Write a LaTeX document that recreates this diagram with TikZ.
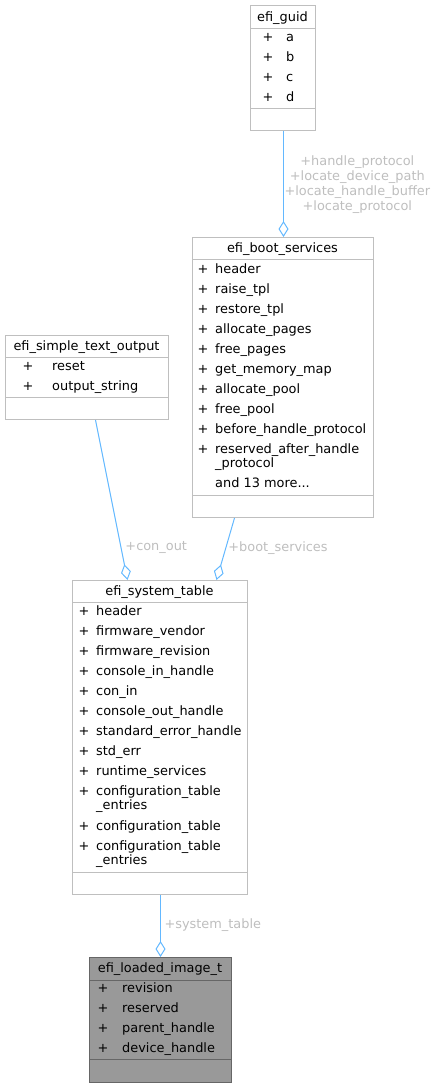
\documentclass[tikz,border=0pt]{standalone}
\usepackage{fontspec}
\setmainfont{DejaVu Sans}
\usetikzlibrary{arrows.meta}
\definecolor{frame}{HTML}{BFBFBF}
\definecolor{link}{HTML}{63B8FF}
\definecolor{lbl}{HTML}{BEBEBE}
\definecolor{hilite}{HTML}{999999}
\definecolor{hiframe}{HTML}{666666}
\tikzset{
  box/.style={draw=frame, fill=white, line width=1pt, inner sep=0pt, anchor=north west},
  hibox/.style={box, draw=hiframe, fill=hilite},
  title/.style={inner sep=0pt, anchor=base, font=\fontsize{12.9}{15}\selectfont},
  member/.style={inner sep=0pt, anchor=base west, font=\fontsize{12.9}{15}\selectfont},
  plus/.style={inner sep=0pt, anchor=base, font=\fontsize{12.9}{15}\selectfont},
  rel/.style={draw=link, line width=1pt, -{Diamond[open, length=16pt, width=10pt, line width=1pt]}},
  rellabel/.style={inner sep=0pt, text=lbl, align=center, font=\fontsize{12.9}{15}\selectfont}
}
\begin{document}
\begin{tikzpicture}[x=1pt, y=-1pt]
  \useasboundingbox (0,0) rectangle (436,1088);
  % efi_guid
  \node[box, minimum width=65pt, minimum height=125pt] (guid) at (250,5) {};
  \draw[frame, line width=1pt] (250,28) -- (315,28) (250,108) -- (315,108);
  \node[title] (guid-t) at (282.5,21.5) {efi\_guid};
  \node[plus] (guid-p1) at (268,41.5) {+};
  \node[plus] (guid-p2) at (268,61.5) {+};
  \node[plus] (guid-p3) at (268,81.5) {+};
  \node[plus] (guid-p4) at (268,101.5) {+};
  \node[member] (guid-1) at (286,41.5) {a};
  \node[member] (guid-2) at (286,61.5) {b};
  \node[member] (guid-3) at (286,81.5) {c};
  \node[member] (guid-4) at (286,101.5) {d};
  % efi_simple_text_output
  \node[box, minimum width=163pt, minimum height=84pt] (sto) at (5,335) {};
  \draw[frame, line width=1pt] (5,357) -- (168,357) (5,397) -- (168,397);
  \node[title] (sto-t) at (86.5,350.5) {efi\_simple\_text\_output};
  \node[plus] (sto-p1) at (28,370.5) {+};
  \node[plus] (sto-p2) at (28,390.5) {+};
  \node[member] (sto-1) at (52,370.5) {reset};
  \node[member] (sto-2) at (52,390.5) {output\_string};
  % efi_boot_services
  \node[box, minimum width=181pt, minimum height=280pt] (bs) at (192,237) {};
  \draw[frame, line width=1pt] (192,259) -- (373,259) (192,495) -- (373,495);
  \node[title] (bs-t) at (282.5,252.5) {efi\_boot\_services};
  \node[plus] (bs-p1) at (203,273.5) {+};
  \node[plus] (bs-p2) at (203,293.5) {+};
  \node[plus] (bs-p3) at (203,313.5) {+};
  \node[plus] (bs-p4) at (203,333.5) {+};
  \node[plus] (bs-p5) at (203,353.5) {+};
  \node[plus] (bs-p6) at (203,373.5) {+};
  \node[plus] (bs-p7) at (203,393.5) {+};
  \node[plus] (bs-p8) at (203,413.5) {+};
  \node[plus] (bs-p9) at (203,433.5) {+};
  \node[plus] (bs-p10) at (203,453.5) {+};
  \node[member] (bs-1) at (215,273.5) {header};
  \node[member] (bs-2) at (215,293.5) {raise\_tpl};
  \node[member] (bs-3) at (215,313.5) {restore\_tpl};
  \node[member] (bs-4) at (215,333.5) {allocate\_pages};
  \node[member] (bs-5) at (215,353.5) {free\_pages};
  \node[member] (bs-6) at (215,373.5) {get\_memory\_map};
  \node[member] (bs-7) at (215,393.5) {allocate\_pool};
  \node[member] (bs-8) at (215,413.5) {free\_pool};
  \node[member] (bs-9) at (215,433.5) {before\_handle\_protocol};
  \node[member] (bs-10) at (215,453.5) {reserved\_after\_handle};
  \node[member] (bs-10b) at (215,467) {\_protocol};
  \node[member] (bs-more) at (215,487.5) {and 13 more...};
  % efi_system_table
  \node[box, minimum width=175pt, minimum height=314pt] (st) at (72,580) {};
  \draw[frame, line width=1pt] (72,602) -- (247,602) (72,872) -- (247,872);
  \node[title] (st-t) at (159.5,595.5) {efi\_system\_table};
  \node[plus] (st-p1) at (84,615.5) {+};
  \node[plus] (st-p2) at (84,635.5) {+};
  \node[plus] (st-p3) at (84,655.5) {+};
  \node[plus] (st-p4) at (84,675.5) {+};
  \node[plus] (st-p5) at (84,695.5) {+};
  \node[plus] (st-p6) at (84,715.5) {+};
  \node[plus] (st-p7) at (84,735.5) {+};
  \node[plus] (st-p8) at (84,755.5) {+};
  \node[plus] (st-p9) at (84,775.5) {+};
  \node[plus] (st-p10) at (84,795.5) {+};
  \node[plus] (st-p11) at (84,830.5) {+};
  \node[plus] (st-p12) at (84,850.5) {+};
  \node[member] (st-1) at (96,615.5) {header};
  \node[member] (st-2) at (96,635.5) {firmware\_vendor};
  \node[member] (st-3) at (96,655.5) {firmware\_revision};
  \node[member] (st-4) at (96,675.5) {console\_in\_handle};
  \node[member] (st-5) at (96,695.5) {con\_in};
  \node[member] (st-6) at (96,715.5) {console\_out\_handle};
  \node[member] (st-7) at (96,735.5) {standard\_error\_handle};
  \node[member] (st-8) at (96,755.5) {std\_err};
  \node[member] (st-9) at (96,775.5) {runtime\_services};
  \node[member] (st-10) at (96,795.5) {configuration\_table};
  \node[member] (st-10b) at (96,809) {\_entries};
  \node[member] (st-11) at (96,830.5) {configuration\_table};
  \node[member] (st-12) at (96,850.5) {configuration\_table};
  \node[member] (st-12b) at (96,864) {\_entries};
  % efi_loaded_image_t
  \node[hibox, minimum width=142pt, minimum height=125pt] (li) at (89,957) {};
  \draw[hiframe, line width=1pt] (89,980) -- (231,980) (89,1059) -- (231,1059);
  \node[title] (li-t) at (160,972.5) {efi\_loaded\_image\_t};
  \node[plus] (li-p1) at (103,992.5) {+};
  \node[plus] (li-p2) at (103,1012.5) {+};
  \node[plus] (li-p3) at (103,1032.5) {+};
  \node[plus] (li-p4) at (103,1052.5) {+};
  \node[member] (li-1) at (122,992.5) {revision};
  \node[member] (li-2) at (122,1012.5) {reserved};
  \node[member] (li-3) at (122,1032.5) {parent\_handle};
  \node[member] (li-4) at (122,1052.5) {device\_handle};
  % relations
  \begin{scope}[rel]
    \draw ([xshift=0.5pt]guid.south) -- ([xshift=0.5pt]guid.south |- bs.north)
      node[rellabel, pos=0.5, anchor=west, xshift=0.5pt, yshift=-1pt]
      {+handle\_protocol\\+locate\_device\_path\\+locate\_handle\_buffer\\+locate\_protocol};
    \draw ([xshift=8.5pt]sto.south) -- ([xshift=-32.5pt]st.north)
      node[rellabel, pos=0.795, anchor=west, xshift=4pt] {+con\_out};
    \draw ([xshift=-48.5pt]bs.south) -- ([xshift=56.5pt]st.north)
      node[rellabel, pos=0.48, anchor=west, xshift=2pt] {+boot\_services};
    \draw ([xshift=0.5pt]st.south) -- ([xshift=0.5pt]st.south |- li.north)
      node[rellabel, pos=0.48, anchor=west, xshift=3.5pt] {+system\_table};
  \end{scope}
\end{tikzpicture}
\end{document}
